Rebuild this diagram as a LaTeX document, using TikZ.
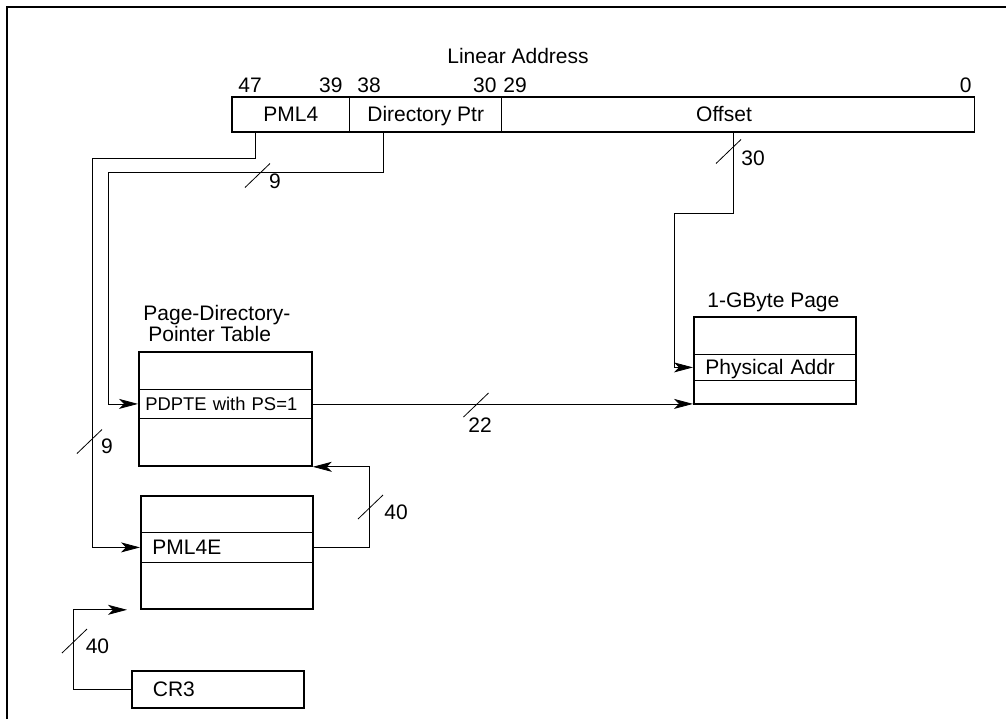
\documentclass[tikz,border=0pt]{standalone}
\usepackage{fontspec}
\setmainfont{Liberation Sans}
\usetikzlibrary{arrows.meta, positioning}

\tikzset{
  field/.style={minimum height=17pt, inner sep=0pt, anchor=north west, text height=7.5pt, text depth=0pt},
  tablebox/.style={draw, line width=0.9pt, inner sep=0pt, anchor=north west},
  rowbox/.style={draw, line width=0.4pt, inner ysep=0pt, align=left, anchor=north west, text height=7.5pt, text depth=0pt},
  link/.style={line width=0.4pt},
  arrowed/.style={-{Stealth[length=9.5pt,width=5pt,inset=2.5pt]}},
  slash/.style={line width=0.4pt},
  bitno/.style={inner sep=0pt},
  every node/.style={font=\fontsize{10.5pt}{10.5pt}\selectfont},
}

\begin{document}
\begin{tikzpicture}[x=0.5pt, y=-0.5pt]
\useasboundingbox (0,0) rectangle (1006,719);
\draw [line width=1.3pt] (7,719) -- (7,7) -- (1006,7);

% linear address
\node [bitno, anchor=base west] (latitle) at (447,63) {Linear Address};
\node [field, minimum width=58.5pt] (pml4) at (232,97) {PML4};
\node [field, minimum width=75.5pt] (dirptr) at (pml4.north east) {Directory Ptr};
\node [field, minimum width=236pt] (offset) at (dirptr.north east) {Offset\hspace*{14pt}};
\draw [line width=0.9pt] (pml4.north west) rectangle (offset.south east);
\draw [link] (dirptr.north west) -- (dirptr.south west);
\draw [link] (offset.north west) -- (offset.south west);
\node [bitno, anchor=base west] (b47) at (238,92) {47};
\node [bitno, anchor=base east] (b39) at (343,92) {39};
\node [bitno, anchor=base west] (b38) at (357,92) {38};
\node [bitno, anchor=base east] (b30) at (497,92) {30};
\node [bitno, anchor=base west] (b29) at (503,92) {29};
\node [bitno, anchor=base east] (b0) at (972,92) {0};

% page-directory-pointer table
\node [bitno, anchor=north west, align=left] (pdpttitle) at (143,305) {Page-Directory-\\\hspace*{2.5pt}Pointer Table};
\node [tablebox, minimum width=86.5pt, minimum height=57pt] (pdpt) at (138,351) {};
\node [rowbox, inner xsep=3.5pt, text width=79.5pt, minimum height=14.5pt, font=\fontsize{9.2pt}{9.2pt}\selectfont, text height=6.6pt] (pdpte) at ([yshift=-19pt]pdpt.north west) {PDPTE with PS=1};

% pml4 table
\node [tablebox, minimum width=86pt, minimum height=56.5pt] (pml4t) at (140,495) {};
\node [rowbox, inner xsep=6pt, text width=74pt, minimum height=15pt] (pml4e) at ([yshift=-18.5pt]pml4t.north west) {PML4E};

% cr3
\node [tablebox, inner xsep=10.5pt, text width=65pt, minimum height=18.5pt, align=left, text height=7.5pt, text depth=0pt] (cr3) at (131,670) {CR3};
\coordinate (cr3in) at ([xshift=-6.5pt]pml4t.south west);

% 1-gbyte page
\node [bitno, anchor=base west] (pagetitle) at (707,307) {1-GByte Page};
\node [tablebox, minimum width=81pt, minimum height=43.5pt] (page) at (693,316) {};
\node [rowbox, inner xsep=6pt, text width=69pt, minimum height=13pt] (phys) at ([yshift=-19pt]page.north west) {Physical Addr};

% connectors
\draw [link, arrowed] ([xshift=-17.75pt]pml4.south) |- (92,158) |- (pml4e.west);
\draw [link, arrowed] ([xshift=-21.25pt]dirptr.south) |- (108,172) |- (pdpte.west);
\draw [link, arrowed] ([xshift=-2.5pt]offset.south) |- (674,213) |- (phys.west);
\draw [link, arrowed] (pdpte.east) -- (pdpte.east -| page.west);
\draw [link, arrowed] (pml4e.east) -- ++(57,0) |- (pdpt.south east);
\draw [link, arrowed] (cr3.west) -- ++(-58,0) |- (cr3in);

% bit widths
\foreach \x/\y in {257.5/175.5, 89.5/441.5, 728.5/151.5, 476/405, 370.5/507, 74.5/641}
  \draw [slash] (\x,\y) ++(-12.5,12) -- ++(25,-24);
\node [bitno] (w9a) at (275,181) {9};
\node [bitno] (w9b) at (107,446) {9};
\node [bitno] (w30) at (753,158) {30};
\node [bitno] (w22) at (480,425) {22};
\node [bitno] (w40a) at (396,512) {40};
\node [bitno] (w40b) at (97.5,646) {40};
\end{tikzpicture}
\end{document}
